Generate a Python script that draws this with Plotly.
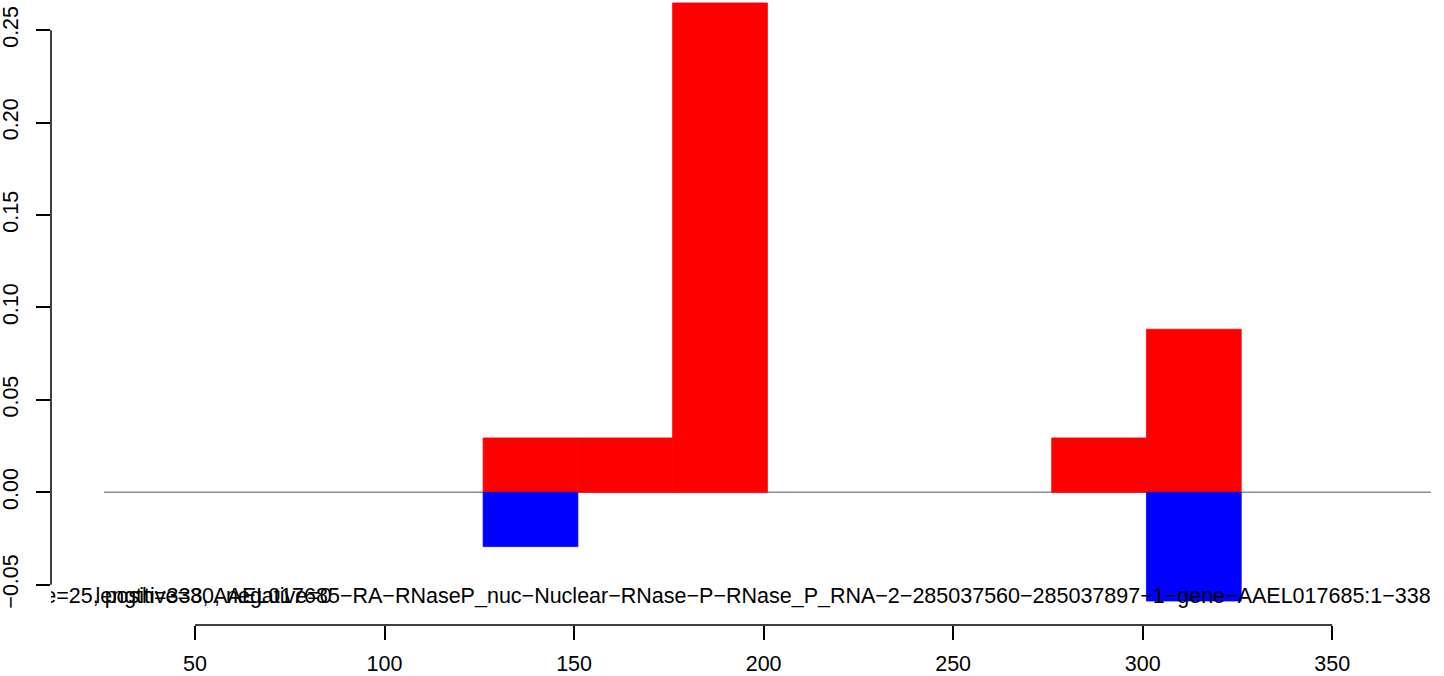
import plotly.graph_objects as go

# ---- data ----
bin_width = 25
pos_start = [126, 151, 176, 276, 301]
pos_value = [0.0294, 0.0294, 0.2647, 0.0294, 0.0882]
neg_start = [126, 301]
neg_value = [-0.0294, -0.0588]

x_ticks = [50, 100, 150, 200, 250, 300, 350]
y_ticks = [-0.05, 0.00, 0.05, 0.10, 0.15, 0.20, 0.25]
y_tick_text = ["\u22120.05", "0.00", "0.05", "0.10", "0.15", "0.20", "0.25"]

baseline_x = [26, 376]
baseline_y = [0, 0]

label_a = "window size=25, positive=30, negative=0"
label_b = ("length=338, AAEL017685\u2212RA\u2212RNaseP_nuc\u2212Nuclear\u2212RNase\u2212P\u2212"
           "RNase_P_RNA\u22122\u2212285037560\u2212285037897\u22121\u2212gene\u2212AAEL017685:1\u2212338")

FONT = "Liberation Sans, Arial, sans-serif"
FS = 21.5
X_RANGE = [12.0, 379.5]
Y_RANGE = [-0.0718, 0.2663]
TEXT_Y = -0.0569
LABEL_A_X = -17.2

fig = go.Figure()

# bars
fig.add_trace(go.Bar(x=pos_start, y=pos_value, width=bin_width, offset=0,
                     marker=dict(color="#ff0000", line=dict(color="#ff0000", width=0.8)),
                     showlegend=False))
fig.add_trace(go.Bar(x=neg_start, y=neg_value, width=bin_width, offset=0,
                     marker=dict(color="#0000ff", line=dict(color="#0000ff", width=0.8)),
                     showlegend=False))

# texts (drawn above the bars, as in the reference)
fig.add_trace(go.Scatter(x=[LABEL_A_X], y=[TEXT_Y], mode="text", text=[label_a],
                         textposition="middle right", cliponaxis=True,
                         textfont=dict(family=FONT, size=FS, color="black"),
                         hoverinfo="skip", showlegend=False))
fig.add_trace(go.Scatter(x=[baseline_x[1]], y=[TEXT_Y], mode="text", text=[label_b],
                         textposition="middle left", cliponaxis=True,
                         textfont=dict(family=FONT, size=FS, color="black"),
                         hoverinfo="skip", showlegend=False))

axis_common = dict(showgrid=False, zeroline=False, showline=False, automargin=False)

fig.update_layout(
    width=1444, height=676,
    margin=dict(l=51, r=0, t=0, b=51, autoexpand=False),
    paper_bgcolor="white", plot_bgcolor="white",
    barmode="overlay",
    font=dict(family=FONT, size=FS, color="black"),
    xaxis=dict(range=X_RANGE, tickvals=x_ticks, ticktext=[str(v) for v in x_ticks],
               ticks="outside", ticklen=14, tickwidth=1.5, tickcolor="black",
               ticklabelstandoff=5,
               tickfont=dict(family=FONT, size=FS, color="black"), **axis_common),
    yaxis=dict(range=Y_RANGE, tickvals=y_ticks, ticktext=y_tick_text, tickangle=-90,
               ticks="outside", ticklen=14, tickwidth=1.5, tickcolor="black",
               ticklabelstandoff=9,
               tickfont=dict(family=FONT, size=FS, color="black"), **axis_common),
    shapes=[
        # zero baseline, beneath the bars
        dict(type="line", layer="below", xref="x", yref="y",
             x0=baseline_x[0], x1=baseline_x[1], y0=baseline_y[0], y1=baseline_y[1],
             line=dict(color="#8c8c8c", width=1.5)),
        # axis lines spanning the tick range (R style)
        dict(type="line", xref="x", yref="paper", x0=x_ticks[0], x1=x_ticks[-1], y0=0, y1=0,
             line=dict(color="black", width=1.5)),
        dict(type="line", xref="paper", yref="y", x0=0, x1=0, y0=y_ticks[0], y1=y_ticks[-1],
             line=dict(color="black", width=1.5)),
    ],
)

fig.write_html("out.html", config={"displayModeBar": False},
               post_script="document.body.style.margin='0';document.body.style.padding='0';")
